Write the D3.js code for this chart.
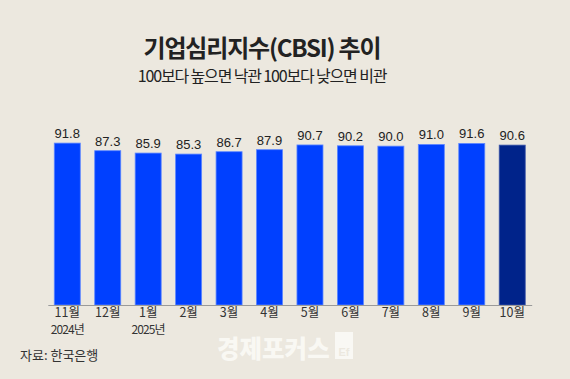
<!DOCTYPE html>
<html>
<head>
<meta charset="utf-8">
<script src="https://cdn.jsdelivr.net/npm/d3@7"></script>
<style>
  html, body { margin: 0; padding: 0; background: #ece8df; }
  svg { display: block; }
</style>
</head>
<body>
<script>
// CBSI monthly values, Nov 2024 - Oct 2025
var months = ['11월', '12월', '1월', '2월', '3월', '4월', '5월', '6월', '7월', '8월', '9월', '10월'];
var years = ['2024년', '', '2025년', '', '', '', '', '', '', '', '', ''];
var values = [91.8, 87.3, 85.9, 85.3, 86.7, 87.9, 90.7, 90.2, 90.0, 91.0, 91.6, 90.6];

var width = 570, height = 379;
var kr = '"Noto Sans CJK KR", "Noto Sans", sans-serif';

var svg = d3.select('body')
  .append('svg')
    .attr('width', width)
    .attr('height', height);

svg.append('rect')
  .attr('width', width)
  .attr('height', height)
  .attr('fill', '#ece8df');

// titles
svg.append('text')
  .attr('x', 262)
  .attr('y', 57)
  .attr('text-anchor', 'middle')
  .style('font-family', kr)
  .style('font-weight', 700)
  .style('font-size', '24px')
  .style('letter-spacing', '-1.2px')
  .style('fill', '#222')
  .text('기업심리지수(CBSI) 추이');

svg.append('text')
  .attr('x', 262)
  .attr('y', 82)
  .attr('text-anchor', 'middle')
  .style('font-family', kr)
  .style('font-size', '16px')
  .style('letter-spacing', '-1.15px')
  .style('fill', '#222')
  .text('100보다 높으면 낙관 100보다 낮으면 비관');

var x = d3.scaleBand()
  .domain(months)
  .range([47.8, 531.7])
  .paddingInner(0.357)
  .paddingOuter(0.16);

var y = d3.scaleLinear()
  .domain([-4, 100])
  .range([305, 305 - 104 * 1.69]);

svg.selectAll('rect.bar')
  .data(values)
  .enter().append('rect')
    .attr('class', 'bar')
    .attr('x', function(d, i) { return x(months[i]); })
    .attr('y', function(d) { return y(d); })
    .attr('width', x.bandwidth())
    .attr('height', function(d) { return y(-4) - y(d); })
    .attr('fill', function(d, i) { return i === values.length - 1 ? '#00238a' : '#0040ff'; })
    .attr('stroke', function(d, i) { return i === values.length - 1 ? '#3a55a8' : '#5c86ff'; })
    .attr('stroke-width', 0.8);

svg.selectAll('text.val')
  .data(values)
  .enter().append('text')
    .attr('class', 'val')
    .attr('x', function(d, i) { return x(months[i]) + x.bandwidth() / 2; })
    .attr('y', function(d) { return y(d) - 5; })
    .attr('text-anchor', 'middle')
    .style('font-family', '"Liberation Sans", Arial, sans-serif')
    .style('font-size', '13px')
    .style('fill', '#222')
    .text(function(d) { return d.toFixed(1); });

// x axis
var axis = svg.append('g')
  .attr('transform', 'translate(0,305)')
  .call(d3.axisBottom(x).tickSize(0).tickPadding(3));

axis.select('.domain').attr('stroke', '#9a9a9a').attr('stroke-width', 1);
axis.selectAll('text')
  .style('font-family', kr)
  .style('font-size', '12.5px')
  .style('fill', '#333');

svg.selectAll('text.year')
  .data(years)
  .enter().append('text')
    .attr('class', 'year')
    .attr('x', function(d, i) { return x(months[i]) + x.bandwidth() / 2; })
    .attr('y', 334)
    .attr('text-anchor', 'middle')
    .style('font-family', kr)
    .style('font-size', '12px')
    .style('letter-spacing', '-0.9px')
    .style('fill', '#333')
    .text(function(d) { return d; });

// source
svg.append('text')
  .attr('x', 20)
  .attr('y', 360)
  .style('font-family', kr)
  .style('font-size', '13px')
  .style('fill', '#333')
  .text('자료: 한국은행');

// watermark
svg.append('text')
  .attr('x', 217)
  .attr('y', 358)
  .style('font-family', kr)
  .style('font-weight', 900)
  .style('font-size', '24.5px')
  .style('fill', '#fbfaf6')
  .style('opacity', 0.9)
  .text('경제포커스');

svg.append('rect')
  .attr('x', 335)
  .attr('y', 332)
  .attr('width', 18)
  .attr('height', 27)
  .attr('fill', '#fbfaf6')
  .style('opacity', 0.9);

svg.append('text')
  .attr('x', 344)
  .attr('y', 356)
  .attr('text-anchor', 'middle')
  .style('font-family', '"Liberation Sans", sans-serif')
  .style('font-weight', 700)
  .style('font-size', '11px')
  .style('fill', '#ece8df')
  .text('Ef');
</script>
</body>
</html>
